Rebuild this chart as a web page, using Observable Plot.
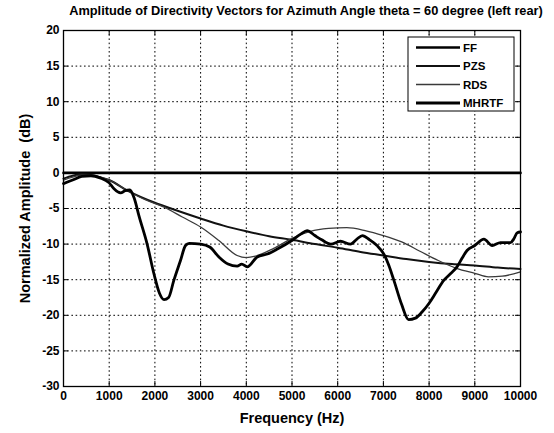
<!DOCTYPE html>
<html>
<head>
<meta charset="utf-8">
<script src="https://cdn.jsdelivr.net/npm/d3@7"></script>
<script src="https://cdn.jsdelivr.net/npm/@observablehq/plot@0.6"></script>
<style>
  html, body { margin: 0; padding: 0; background: #fff; }
  #chart svg { display: block; font-family: "Liberation Sans", Arial, sans-serif; }
</style>
</head>
<body>
<div id="chart"></div>
<script>
// Directivity amplitude, azimuth 60 degrees (left rear)
const titleText = "Amplitude of Directivity Vectors for Azimuth Angle theta = 60 degree (left rear)";
const xLabel = "Frequency (Hz)";
const yLabel = "Normalized Amplitude  (dB)";
const xTicks = [0, 1000, 2000, 3000, 4000, 5000, 6000, 7000, 8000, 9000, 10000];
const yTicks = [20, 15, 10, 5, 0, -5, -10, -15, -20, -25, -30];
const seriesNames = ["FF", "PZS", "RDS", "MHRTF"];

// FF: flat reference
const ffFreq = [0, 10000];
const ffAmp = [0, 0];

// PZS: smooth monotonic roll-off
const pzsFreq = [0, 200, 400, 600, 800, 1000, 1400, 2000, 2400, 3000, 3500, 4000, 4500, 5000, 5500, 6000, 6500, 7000, 7500, 8000, 8500, 9000, 9500, 10000];
const pzsAmp = [-0.8, -0.4, -0.2, -0.3, -0.6, -1.0, -2.5, -4.2, -5.1, -6.4, -7.4, -8.2, -8.9, -9.4, -10.0, -10.5, -11.1, -11.6, -12.1, -12.5, -12.8, -13.0, -13.3, -13.5];

// RDS: dip near 4 kHz, hump near 6 kHz
const rdsFreq = [0, 200, 400, 600, 800, 1000, 1400, 1800, 2200, 2600, 3000, 3400, 3800, 4000, 4200, 4600, 5000, 5400, 5800, 6200, 6600, 7000, 7400, 7800, 8200, 8600, 9000, 9300, 9600, 10000];
const rdsAmp = [-1.0, -0.6, -0.3, -0.3, -0.6, -1.0, -2.5, -3.8, -4.8, -6.2, -7.6, -9.5, -11.6, -11.9, -11.7, -10.6, -9.2, -8.2, -7.8, -7.7, -8.1, -8.8, -9.7, -11.0, -12.3, -13.4, -14.1, -14.6, -14.5, -13.9];

// MHRTF: measured, with deep notches near 2.2 kHz and 7.6 kHz
const mhrtfFreq = [0, 200, 400, 600, 800, 1000, 1100, 1250, 1350, 1450, 1550, 1650, 1830, 1980, 2100, 2200, 2300, 2414, 2560, 2670, 2750, 3000, 3200, 3400, 3600, 3800, 3900, 4020, 4240, 4460, 4680, 4970, 5190, 5330, 5500, 5650, 5850, 6060, 6280, 6420, 6540, 6700, 6860, 7010, 7120, 7230, 7400, 7550, 7700, 7850, 8000, 8150, 8320, 8460, 8610, 8720, 8830, 9000, 9200, 9380, 9560, 9780, 9850, 9930, 10000];
const mhrtfAmp = [-1.5, -1.0, -0.5, -0.4, -0.7, -1.4, -2.2, -2.8, -2.5, -2.4, -3.6, -6.0, -10.0, -14.2, -16.9, -17.8, -17.5, -15.1, -12.3, -10.2, -9.9, -10.0, -10.4, -11.8, -12.8, -13.1, -12.8, -13.2, -11.8, -11.4, -10.7, -9.6, -8.6, -8.1, -8.8, -9.4, -10.0, -9.6, -10.0, -9.3, -8.8, -9.4, -10.2, -11.4, -13.0, -15.1, -18.5, -20.6, -20.4, -19.5, -18.3, -16.8, -15.1, -14.2, -13.2, -12.0, -10.9, -10.2, -9.3, -10.2, -9.8, -9.8, -9.3, -8.4, -8.3];

const toRows = (f, a) => f.map((x, i) => ({f: x, a: a[i]}));
const ff = toRows(ffFreq, ffAmp);
const pzs = toRows(pzsFreq, pzsAmp);
const rds = toRows(rdsFreq, rdsAmp);
const mhrtf = toRows(mhrtfFreq, mhrtfAmp);

const styles = {
  FF: {stroke: "#000", strokeWidth: 2.6},
  PZS: {stroke: "#111", strokeWidth: 2.0},
  RDS: {stroke: "#3a3a3a", strokeWidth: 1.3},
  MHRTF: {stroke: "#000", strokeWidth: 2.8}
};

const W = 554, H = 433;
const mL = 63, mR = 34, mT = 30, mB = 47;

const plot = Plot.plot({
  width: W,
  height: H,
  marginLeft: mL,
  marginRight: mR,
  marginTop: mT,
  marginBottom: mB,
  style: {fontFamily: "Liberation Sans, Arial, sans-serif", fontSize: "12px", fontWeight: "bold", color: "#000", background: "#fff"},
  x: {domain: [0, 10000], ticks: xTicks, tickFormat: d => String(d)},
  y: {domain: [-30, 20], ticks: yTicks, tickFormat: d => String(d)},
  marks: [
    // dotted grid
    Plot.ruleX(xTicks.slice(1, -1), {stroke: "#000", strokeWidth: 1, strokeDasharray: "1.6,2.6", strokeOpacity: 1}),
    Plot.ruleY(yTicks.slice(1, -1), {stroke: "#000", strokeWidth: 1, strokeDasharray: "1.6,2.6", strokeOpacity: 1}),
    // inward tick marks
    Plot.ruleX(xTicks, {y1: 20, y2: 19.3, stroke: "#000", strokeWidth: 1}),
    Plot.ruleX(xTicks, {y1: -30, y2: -29.3, stroke: "#000", strokeWidth: 1}),
    Plot.ruleY(yTicks, {x1: 0, x2: 110, stroke: "#000", strokeWidth: 1}),
    Plot.ruleY(yTicks, {x1: 9890, x2: 10000, stroke: "#000", strokeWidth: 1}),
    Plot.axisX({ticks: xTicks, tickSize: 0, tickPadding: 5, tickFormat: d => String(d), label: xLabel, labelAnchor: "center", labelArrow: "none", labelOffset: 36}),
    Plot.axisY({ticks: yTicks, tickSize: 0, tickPadding: 4, tickFormat: d => String(d), label: yLabel, labelAnchor: "center", labelArrow: "none", labelOffset: 44}),
    Plot.line(ff, {x: "f", y: "a", ...styles.FF}),
    Plot.line(pzs, {x: "f", y: "a", curve: "monotone-x", ...styles.PZS}),
    Plot.line(rds, {x: "f", y: "a", curve: "monotone-x", ...styles.RDS}),
    Plot.line(mhrtf, {x: "f", y: "a", curve: "monotone-x", strokeLinejoin: "round", ...styles.MHRTF}),
    Plot.frame({stroke: "#000", strokeWidth: 1.3})
  ]
});

const svg = d3.select(plot);
// larger axis titles
svg.selectAll("[aria-label='x-axis label'] text, [aria-label='y-axis label'] text")
  .style("font-size", "14.5px");

// chart title
svg.append("text")
  .attr("x", 306).attr("y", 15)
  .attr("text-anchor", "middle")
  .attr("font-size", "12.8px").attr("font-weight", "bold")
  .text(titleText);

// legend box
const lg = svg.append("g").attr("transform", "translate(408,37)");
lg.append("rect").attr("width", 106).attr("height", 74)
  .attr("fill", "#fff").attr("stroke", "#000").attr("stroke-width", 1);
seriesNames.forEach((name, i) => {
  const y = 10.5 + i * 18.5;
  lg.append("line").attr("x1", 8).attr("x2", 52).attr("y1", y).attr("y2", y)
    .attr("stroke", styles[name].stroke).attr("stroke-width", styles[name].strokeWidth);
  lg.append("text").attr("x", 55).attr("y", y + 4)
    .attr("text-anchor", "start")
    .attr("font-size", "11.5px").attr("font-weight", "bold").text(name);
});

document.getElementById("chart").appendChild(plot);
</script>
</body>
</html>
